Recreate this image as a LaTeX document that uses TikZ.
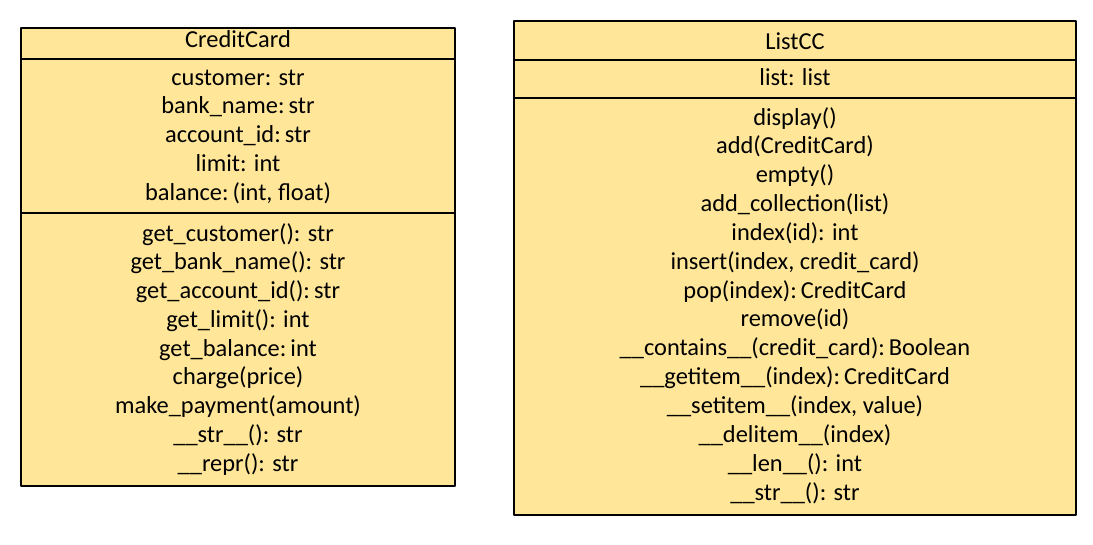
\documentclass[tikz,border=0pt]{standalone}
\usepackage{fontspec}
\setmainfont{Carlito}
\definecolor{classfill}{HTML}{FFE699}
\begin{document}
\begin{tikzpicture}[x=1pt, y=-1pt, line join=round, font=\fontsize{24.4}{28}\selectfont]
	\tikzset{box/.style={draw=black, fill=classfill, line width=1.2pt},
		row/.style={inner sep=0pt, anchor=base}}
	\useasboundingbox (0,0) rectangle (1093,544);
	% CreditCard
	\draw[box] (21,28) rectangle (455,486);
	\draw[line width=1.2pt] (21,59)--(455,59) (21,213)--(455,213);
	\node[row] (cc-name) at (238,47) {CreditCard};
	\foreach \txt [count=\i] in {customer: str, bank\_name:\,str, account\_id:\,str, limit: int, {balance:\,(int, float)}}
		\node[row] (cc-attr-\i) at (238,{85+28.9*(\i-1)}) {\txt};
	\foreach \txt [count=\i] in {get\_customer(): str, get\_bank\_name(): str, get\_account\_id():\,str, get\_limit(): int, get\_balance:\,int, charge(price), make\_payment(amount), \_\_str\_\_(): str, \_\_repr(): str}
		\node[row] (cc-op-\i) at (238,{241+28.75*(\i-1)}) {\txt};
	% ListCC
	\draw[box] (514,21) rectangle (1076,515);
	\draw[line width=1.2pt] (514,60)--(1076,60) (514,98)--(1076,98);
	\node[row] (lc-name) at (795,49) {ListCC};
	\node[row] (lc-attr-1) at (795,85) {list: list};
	\foreach \txt [count=\i] in {display(), add(CreditCard), empty(), add\_collection(list), index(id): int, {insert(index, credit\_card)}, pop(index):\,CreditCard, remove(id), \_\_contains\_\_(credit\_card):\,Boolean, \_\_getitem\_\_(index):\,CreditCard, {\_\_setitem\_\_(index, value)}, \_\_delitem\_\_(index), \_\_len\_\_(): int, \_\_str\_\_(): str}
		\node[row] (lc-op-\i) at (795,{125+28.85*(\i-1)}) {\txt};
\end{tikzpicture}
\end{document}
